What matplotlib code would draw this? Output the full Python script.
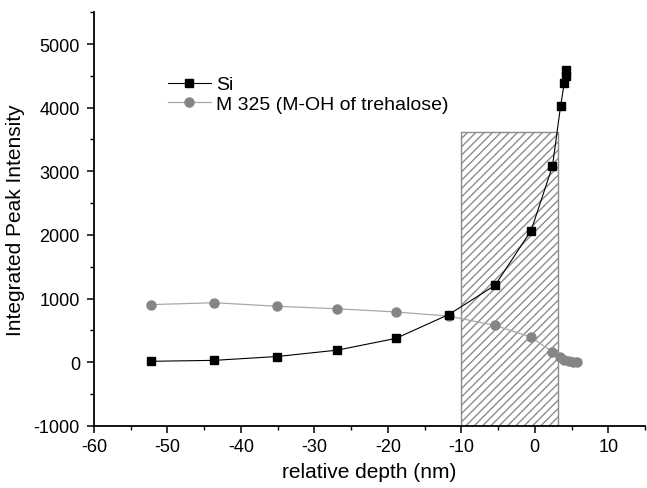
import matplotlib.pyplot as plt
from matplotlib.ticker import MultipleLocator

plt.rcParams['font.family'] = ['Liberation Sans', 'DejaVu Sans']
plt.rcParams['axes.unicode_minus'] = False
plt.rcParams['hatch.color'] = '#8c8c8c'
plt.rcParams['hatch.linewidth'] = 1.0

# Si signal
si_depth = [-52.2, -43.6, -35.1, -26.9, -18.9, -11.7, -5.4, -0.5, 2.4, 3.5, 4.0, 4.2, 4.2]
si_intensity = [15, 30, 90, 190, 375, 750, 1210, 2070, 3080, 4020, 4380, 4500, 4590]

# M 325 signal
m325_depth = [-52.2, -43.6, -35.1, -26.9, -18.9, -11.7, -5.4, -0.5, 2.4, 3.4, 4.0, 4.6, 5.2, 5.7]
m325_intensity = [906, 935, 880, 840, 790, 725, 578, 395, 160, 80, 35, 15, 10, 10]

# hatched interface region
band_left = -10
band_right = 3.2
band_bottom = -1000
band_top = 3620

fig = plt.figure(figsize=(6.47, 4.89), dpi=100)
ax = fig.add_axes([0.145, 0.127, 0.852, 0.846])

ax.bar(band_left, band_top - band_bottom, width=band_right - band_left,
       bottom=band_bottom, align='edge', facecolor='white',
       edgecolor='#8c8c8c', hatch='////', linewidth=1.0, zorder=1)

ax.plot(m325_depth, m325_intensity, '-o', color='#a8a8a8', lw=0.9,
        markerfacecolor='#858585', markeredgecolor='#858585',
        markersize=6.5, label='M 325 (M-OH of trehalose)', zorder=2)
ax.plot(si_depth, si_intensity, '-s', color='black', lw=0.8,
        markerfacecolor='black', markeredgecolor='black',
        markersize=6, label='Si', zorder=3)

ax.set_xlim(-60, 15)
ax.set_ylim(-1000, 5500)
ax.xaxis.set_major_locator(MultipleLocator(10))
ax.xaxis.set_minor_locator(MultipleLocator(5))
ax.yaxis.set_major_locator(MultipleLocator(1000))
ax.yaxis.set_minor_locator(MultipleLocator(500))

for side in ['top', 'right']:
    ax.spines[side].set_visible(False)
for side in ['left', 'bottom']:
    ax.spines[side].set_linewidth(1.3)

ax.tick_params(which='major', direction='out', length=5, width=1.1, labelsize=13)
ax.tick_params(which='minor', direction='out', length=3, width=1.0)
ax.tick_params(axis='y', which='major', pad=5)

ax.set_xlabel('relative depth (nm)', fontsize=15, labelpad=5)
ax.set_ylabel('Integrated Peak Intensity', fontsize=15, labelpad=6)

handles, labels = ax.get_legend_handles_labels()
ax.legend(handles[::-1], labels[::-1], loc='upper left', frameon=False,
          bbox_to_anchor=(158 / 647, 1 - 67 / 489), bbox_transform=fig.transFigure,
          fontsize=14, handlelength=2.2, handletextpad=0.3, labelspacing=0.1,
          borderpad=0)

fig.savefig('out.png', dpi=100)
